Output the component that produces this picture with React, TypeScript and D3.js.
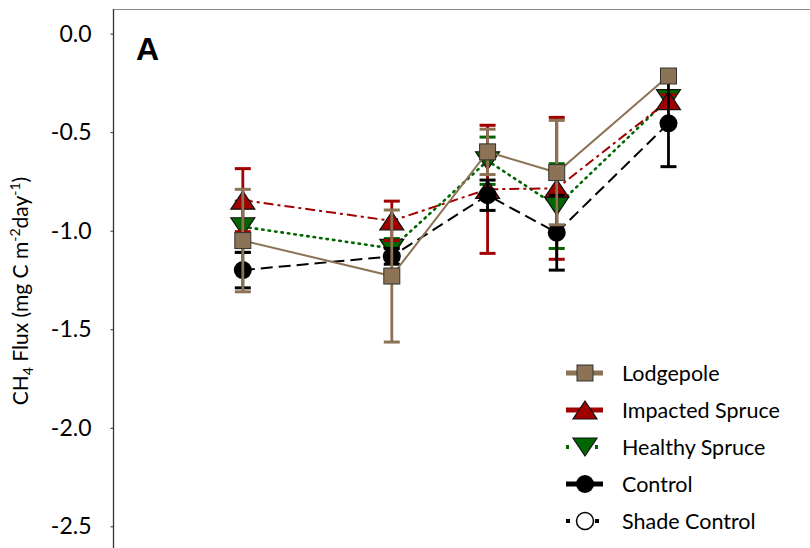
import React, { useEffect, useRef } from "react";
import * as d3 from "d3";

// sampling days (day of year) and series means / standard errors
const days = [162, 190, 208, 221, 242];

const lodgepole = [-1.05, -1.23, -0.6, -0.705, -0.215];
const lodgepoleErr = [0.26, 0.335, 0.115, 0.265, 0.02];

const impacted = [-0.845, -0.95, -0.79, -0.785, -0.34];
const impactedErr = [0.16, 0.1, 0.325, 0.36, 0.03];

const healthy = [-0.98, -1.09, -0.645, -0.875, -0.33];
const healthyErr = [0.13, 0.05, 0.12, 0.215, 0.03];

const control = [-1.2, -1.13, -0.82, -1.01, -0.455];
const controlErr = [0.09, 0.04, 0.077, 0.19, 0.22];

const yTicks = [0, -0.5, -1.0, -1.5, -2.0, -2.5];

const legendNames = ["Lodgepole", "Impacted Spruce", "Healthy Spruce", "Control", "Shade Control"];

const W = 810;
const H = 548;
const FONT = "Lato, 'Open Sans', sans-serif";

type Marker = "square" | "up" | "down" | "circle" | "open";

type Series = {
    name: string
    values: number[]
    errs: number[]
    color: string
    marker: Marker
    dash: string | null
};

const series: Series[] = [
    { name: "Healthy Spruce", values: healthy, errs: healthyErr, color: "#006600", marker: "down", dash: "1.5,5" },
    { name: "Impacted Spruce", values: impacted, errs: impactedErr, color: "#a00000", marker: "up", dash: "10,4,3,4" },
    { name: "Control", values: control, errs: controlErr, color: "#000000", marker: "circle", dash: "12,6" },
    { name: "Lodgepole", values: lodgepole, errs: lodgepoleErr, color: "#8c7355", marker: "square", dash: null },
];

const drawMarker = (g: d3.Selection<SVGGElement, unknown, null, undefined>, m: Marker, cx: number, cy: number, color: string) => {
    if (m === "square") {
        g.append("rect")
            .attr("x", cx - 8).attr("y", cy - 8)
            .attr("width", 16).attr("height", 16)
            .attr("fill", color).attr("stroke", "#333").attr("stroke-width", 1);
    } else if (m === "up") {
        g.append("path")
            .attr("d", `M${cx},${cy - 9}L${cx + 12},${cy + 9}L${cx - 12},${cy + 9}Z`)
            .attr("fill", color).attr("stroke", "#111").attr("stroke-width", 1.2);
    } else if (m === "down") {
        g.append("path")
            .attr("d", `M${cx - 12},${cy - 9}L${cx + 12},${cy - 9}L${cx},${cy + 9}Z`)
            .attr("fill", color).attr("stroke", "#111").attr("stroke-width", 1.2);
    } else if (m === "circle") {
        g.append("circle").attr("cx", cx).attr("cy", cy).attr("r", 9).attr("fill", color);
    } else {
        g.append("circle").attr("cx", cx).attr("cy", cy).attr("r", 8.5)
            .attr("fill", "#fff").attr("stroke", "#000").attr("stroke-width", 1.5);
    }
};

export default function App() {
    const ref = useRef<SVGSVGElement>(null);

    useEffect(() => {
        const svg = d3.select(ref.current);
        svg.selectAll("*").remove();

        const x = d3.scaleLinear().domain([137.6, 268.6]).range([113, W]);
        const y = d3.scaleLinear().domain([0.125, -2.61]).range([9, H]);

        // frame
        svg.append("line")
            .attr("x1", 113).attr("x2", W).attr("y1", 9.5).attr("y2", 9.5)
            .attr("stroke", "#8a8a8a").attr("stroke-width", 1.2);

        const axis = svg.append("g")
            .attr("transform", "translate(113.5,0)")
            .call(
                d3.axisLeft(y)
                    .tickValues(yTicks)
                    .tickSize(3)
                    .tickPadding(19)
                    .tickFormat(d => (+d).toFixed(1))
            );
        axis.select(".domain").attr("stroke", "#333").attr("stroke-width", 1.3).attr("d", `M0,9V${H}`);
        axis.selectAll(".tick line").attr("stroke", "#333");
        axis.selectAll(".tick text")
            .attr("font-family", FONT)
            .attr("font-size", 23)
            .attr("fill", "#000");

        // y title
        const title = svg.append("text")
            .attr("transform", "translate(28,291) rotate(-90)")
            .attr("text-anchor", "middle")
            .attr("font-family", FONT)
            .attr("font-size", 21)
            .attr("fill", "#000");
        title.append("tspan").text("CH");
        title.append("tspan").attr("font-size", 14).attr("dy", 5).text("4");
        title.append("tspan").attr("dy", -5).text(" Flux (mg C m");
        title.append("tspan").attr("font-size", 14).attr("dy", -8).text("-2");
        title.append("tspan").attr("dy", 8).text("day");
        title.append("tspan").attr("font-size", 14).attr("dy", -8).text("-1");
        title.append("tspan").attr("dy", 8).text(")");

        // panel label
        svg.append("text")
            .attr("x", 136).attr("y", 60)
            .attr("font-family", "'Liberation Sans', Arial, sans-serif")
            .attr("font-weight", "bold")
            .attr("font-size", 32)
            .text("A");

        const plot = svg.append("g");

        series.forEach(s => {
            const g = plot.append("g");
            const line = d3.line<number>()
                .x((_, i) => x(days[i]))
                .y(d => y(d));
            g.append("path")
                .attr("d", line(s.values))
                .attr("fill", "none")
                .attr("stroke", s.color)
                .attr("stroke-width", s.marker === "down" ? 2.6 : 2)
                .attr("stroke-linecap", s.marker === "down" ? "round" : "butt")
                .attr("stroke-dasharray", s.dash);

            s.values.forEach((v, i) => {
                const cx = x(days[i]);
                const top = y(v + s.errs[i]);
                const bot = y(v - s.errs[i]);
                g.append("line")
                    .attr("x1", cx).attr("x2", cx).attr("y1", top).attr("y2", bot)
                    .attr("stroke", s.color).attr("stroke-width", 2.8);
                [top, bot].forEach(yy => {
                    g.append("line")
                        .attr("x1", cx - 8).attr("x2", cx + 8).attr("y1", yy).attr("y2", yy)
                        .attr("stroke", s.color).attr("stroke-width", 3);
                });
            });
            s.values.forEach((v, i) => drawMarker(g, s.marker, x(days[i]), y(v), s.color));
        });

        // legend
        const legendStyle: { color: string, marker: Marker, dash: string | null }[] = [
            { color: "#8c7355", marker: "square", dash: null },
            { color: "#a00000", marker: "up", dash: null },
            { color: "#006600", marker: "down", dash: "3,26" },
            { color: "#000000", marker: "circle", dash: null },
            { color: "#000000", marker: "open", dash: "4,25" },
        ];
        const ly = d3.scalePoint<string>().domain(legendNames).range([373, 521]);
        const leg = svg.append("g");
        legendNames.forEach((name, i) => {
            const st = legendStyle[i];
            const cy = ly(name) as number;
            const g = leg.append("g");
            g.append("line")
                .attr("x1", 566).attr("x2", 603).attr("y1", cy).attr("y2", cy)
                .attr("stroke", st.color)
                .attr("stroke-width", st.dash ? 4 : 5)
                .attr("stroke-dasharray", st.dash);
            drawMarker(g, st.marker, 585, cy, st.color);
            g.append("text")
                .attr("x", 622).attr("y", cy + 7.5)
                .attr("font-family", FONT)
                .attr("font-size", 21.5)
                .text(name);
        });
    }, []);

    return (
        <svg
            ref={ref}
            width={W}
            height={H}
            style={{ position: "absolute", left: 0, top: 0, background: "#fff" }}
        />
    );
}
